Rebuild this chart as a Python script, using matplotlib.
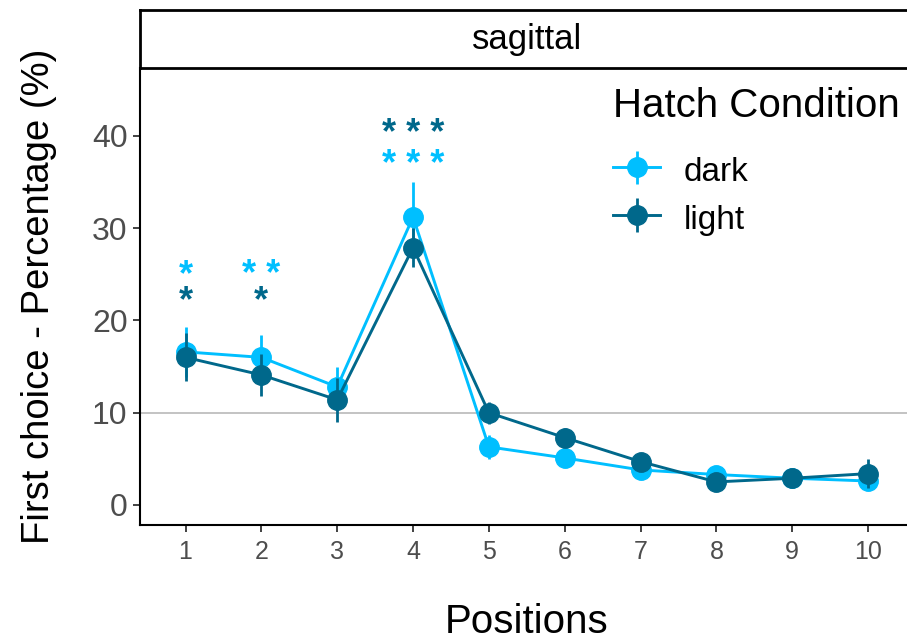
import matplotlib
matplotlib.use("Agg")
import matplotlib.pyplot as plt
import numpy as np

plt.rcParams['font.family'] = ['Liberation Sans', 'DejaVu Sans']

positions = [1, 2, 3, 4, 5, 6, 7, 8, 9, 10]
tick_labels = ["1", "2", "3", "4", "5", "6", "7", "8", "9", "10"]
dark_vals = [16.6, 16.0, 12.8, 31.2, 6.3, 5.1, 3.8, 3.3, 2.9, 2.6]
dark_err = [2.7, 2.4, 2.2, 3.8, 1.3, 1.0, 0.8, 0.8, 0.7, 0.8]
light_vals = [16.0, 14.1, 11.4, 27.9, 10.0, 7.3, 4.7, 2.5, 2.9, 3.4]
light_err = [2.6, 2.3, 2.4, 2.1, 1.2, 1.0, 0.9, 0.7, 0.6, 1.6]

# significance stars: (position, y-center, label, group)
star_pos = [1, 1, 2, 2, 4, 4]
star_y = [25.8, 23.0, 25.8, 23.0, 37.7, 41.1]
star_txt = ["*", "*", "* *", "*", "* * *", "* * *"]
star_grp = ["dark", "light", "dark", "light", "dark", "light"]

col = {"dark": "#00BFFF", "light": "#00688B"}

W, H = 907, 642
fig = plt.figure(figsize=(W / 100, H / 100), dpi=100)
ax_l, ax_r, ax_b, ax_t = 140, 913.6, 525, 68
ax = fig.add_axes([ax_l / W, 1 - ax_b / H, (ax_r - ax_l) / W, (ax_b - ax_t) / H])
ax.set_xlim(0.4, 10.6)
ax.set_ylim(-2.17, 47.37)

ax.axhline(10, color="#BEBEBE", lw=1.3, zorder=1)

h1 = ax.errorbar(positions, dark_vals, yerr=dark_err, color=col["dark"], marker="o",
                 markersize=14, lw=2.1, elinewidth=2.0, capsize=0, zorder=3, label="dark")
h2 = ax.errorbar(positions, light_vals, yerr=light_err, color=col["light"], marker="o",
                 markersize=14, lw=2.1, elinewidth=2.0, capsize=0, zorder=4, label="light")

for x, y, t, g in zip(star_pos, star_y, star_txt, star_grp):
    ax.annotate(t, (x, y), xytext=(0, -13), textcoords="offset points",
                ha="center", va="baseline", fontsize=26, fontweight="bold",
                color=col[g], zorder=5)

for s in ["top", "right"]:
    ax.spines[s].set_visible(False)
for s in ["left", "bottom"]:
    ax.spines[s].set_linewidth(1.5)
    ax.spines[s].set_color("black")

ax.set_xticks(positions)
ax.set_xticklabels(tick_labels)
ax.set_yticks([0, 10, 20, 30, 40])
ax.tick_params(axis="x", labelsize=18, colors="#333333", labelcolor="#4D4D4D", length=5, width=1.3, pad=6)
ax.tick_params(axis="y", labelsize=23, colors="#333333", labelcolor="#4D4D4D", length=5, width=1.3, pad=4)

ax.set_xlabel("Positions", fontsize=29, labelpad=28)
ax.set_ylabel("First choice - Percentage (%)", fontsize=27.5, labelpad=25)

# facet strip
strip = fig.add_axes([ax_l / W, 1 - 68 / H, (ax_r - ax_l) / W, (68 - 10) / H])
strip.set_xticks([]); strip.set_yticks([])
for s in strip.spines.values():
    s.set_linewidth(2.0)
    s.set_color("black")
strip.text(0.5, 0.5, "sagittal", ha="center", va="center", fontsize=25, transform=strip.transAxes)

leg = ax.legend(handles=[h1, h2], labels=["dark", "light"], title="Hatch Condition",
                loc="upper left", bbox_to_anchor=(600 / W, 1 - 74 / H),
                bbox_transform=fig.transFigure, frameon=False, fontsize=24,
                title_fontsize=29, handlelength=1.4, handleheight=1.2, handletextpad=0.7,
                labelspacing=0.37, borderaxespad=0)
leg._legend_box.align = "left"
leg._legend_box.sep = 20

fig.savefig("out.png", dpi=100)
